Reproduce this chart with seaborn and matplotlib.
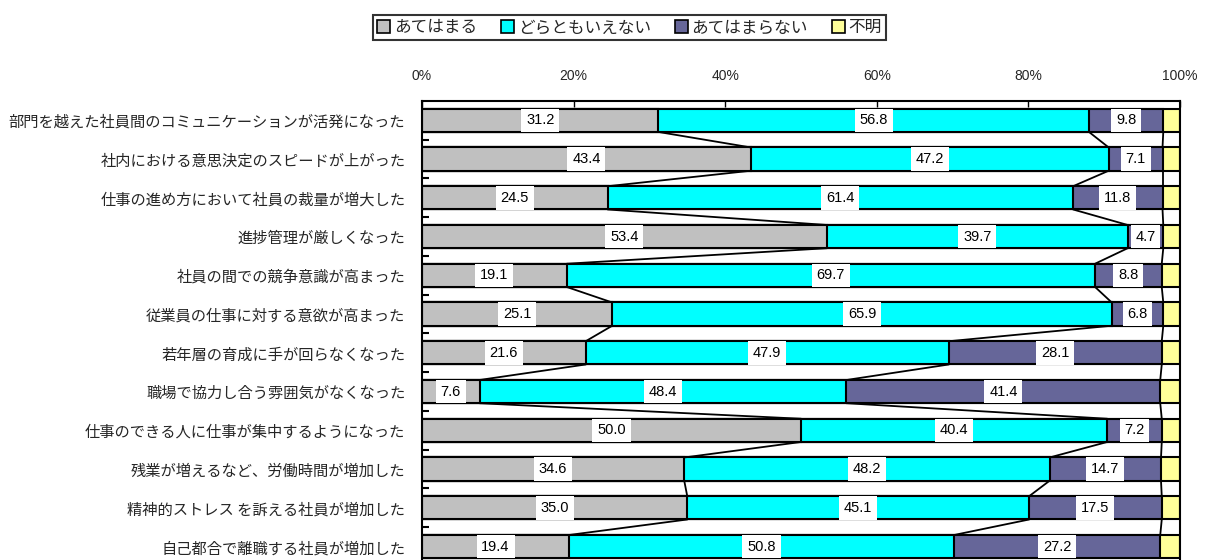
import numpy as np
import pandas as pd
import matplotlib
matplotlib.use('Agg')
import matplotlib.pyplot as plt
from matplotlib.patches import Patch
from matplotlib.ticker import FixedLocator
import seaborn as sns

# --- data ---
categories = [
    '部門を越えた社員間のコミュニケーションが活発になった',
    '社内における意思決定のスピードが上がった',
    '仕事の進め方において社員の裁量が増大した',
    '進捗管理が厳しくなった',
    '社員の間での競争意識が高まった',
    '従業員の仕事に対する意欲が高まった',
    '若年層の育成に手が回らなくなった',
    '職場で協力し合う雰囲気がなくなった',
    '仕事のできる人に仕事が集中するようになった',
    '残業が増えるなど、労働時間が増加した',
    '精神的ストレス を訴える社員が増加した',
    '自己都合で離職する社員が増加した',
]
applies = [31.2, 43.4, 24.5, 53.4, 19.1, 25.1, 21.6, 7.6, 50.0, 34.6, 35.0, 19.4]
neither = [56.8, 47.2, 61.4, 39.7, 69.7, 65.9, 47.9, 48.4, 40.4, 48.2, 45.1, 50.8]
not_applies = [9.8, 7.1, 11.8, 4.7, 8.8, 6.8, 28.1, 41.4, 7.2, 14.7, 17.5, 27.2]
unknown = [2.2, 2.3, 2.3, 2.2, 2.4, 2.2, 2.4, 2.6, 2.4, 2.5, 2.4, 2.6]

series_names = ['あてはまる', 'どらともいえない', 'あてはまらない', '不明']
series_colors = ['#C0C0C0', '#00FFFF', '#666699', '#FFFF99']
x_ticks = [0, 20, 40, 60, 80, 100]
x_tick_labels = ['0%', '20%', '40%', '60%', '80%', '100%']

BAR_H = 0.6
NUM_FONT = ['Liberation Sans', 'DejaVu Sans']


def main():
    sns.set_theme(style='white')
    plt.rcParams['font.family'] = ['Noto Sans CJK JP', 'DejaVu Sans']

    df = pd.DataFrame({
        'item': categories,
        'a': applies, 'b': neither, 'c': not_applies, 'd': unknown,
    })
    parts = [df['a'], df['b'], df['c'], df['d']]
    cums = np.cumsum(np.vstack(parts), axis=0)  # 4 x n

    fig = plt.figure(figsize=(12.06, 5.6), dpi=100)
    ax = fig.add_axes([0.3499, -0.0107, 0.6285, 0.8304])

    # stacked bars: draw the longest cumulative first, shorter ones on top
    for k in range(3, -1, -1):
        tmp = pd.DataFrame({'item': categories, 'val': cums[k]})
        sns.barplot(data=tmp, x='val', y='item', order=categories, orient='h',
                    color=series_colors[k], saturation=1, width=BAR_H,
                    edgecolor='black', linewidth=1.5, ax=ax)

    ypos = np.arange(len(categories))

    # series lines between consecutive bars
    for k in range(3):
        for i in range(len(categories) - 1):
            ax.plot([cums[k][i], cums[k][i + 1]],
                    [ypos[i] + BAR_H / 2, ypos[i + 1] - BAR_H / 2],
                    color='black', lw=1.3, zorder=5)

    # value labels (first three series)
    for k in range(3):
        left = cums[k] - parts[k].values
        for i, v in enumerate(parts[k].values):
            ax.text(left[i] + v / 2, ypos[i], f'{v:.1f}', ha='center', va='center',
                    fontsize=10.5, family=NUM_FONT, color='black', zorder=6,
                    bbox=dict(facecolor='white', edgecolor='none', pad=3.5))

    ax.set_xlim(0, 100)
    ax.set_ylim(len(categories) - 0.5, -0.5)
    ax.set_xlabel('')
    ax.set_ylabel('')

    ax.xaxis.set_ticks_position('top')
    ax.xaxis.set_label_position('top')
    ax.set_xticks(x_ticks)
    ax.set_xticklabels(x_tick_labels, fontsize=10, family=NUM_FONT)
    ax.tick_params(axis='x', which='major', direction='in', length=4, width=1,
                   color='black', pad=13, top=True, bottom=False)

    ax.set_yticks(ypos)
    ax.set_yticklabels(categories, fontsize=11)
    ax.tick_params(axis='y', which='major', length=0, pad=12)
    ax.yaxis.set_minor_locator(FixedLocator(np.arange(len(categories) - 1) + 0.5))
    ax.tick_params(axis='y', which='minor', direction='in', length=5, width=1.5,
                   color='black', left=True)

    for side in ['top', 'left', 'right', 'bottom']:
        ax.spines[side].set_visible(True)
        ax.spines[side].set_color('black')
        ax.spines[side].set_linewidth(1.5)
    ax.grid(False)

    handles = [Patch(facecolor=c, edgecolor='black', linewidth=1.2) for c in series_colors]
    leg = fig.legend(handles, series_names, loc='upper center', ncol=4,
                     bbox_to_anchor=(0.522, 0.988), fontsize=12, frameon=True,
                     fancybox=False, handlelength=0.8, handleheight=0.8,
                     handletextpad=0.2, columnspacing=1.45, borderpad=0.25)
    leg.get_frame().set_edgecolor('black')
    leg.get_frame().set_linewidth(1.5)

    fig.savefig('out.png', dpi=100, facecolor='white')
    plt.close(fig)


if __name__ == '__main__':
    main()
